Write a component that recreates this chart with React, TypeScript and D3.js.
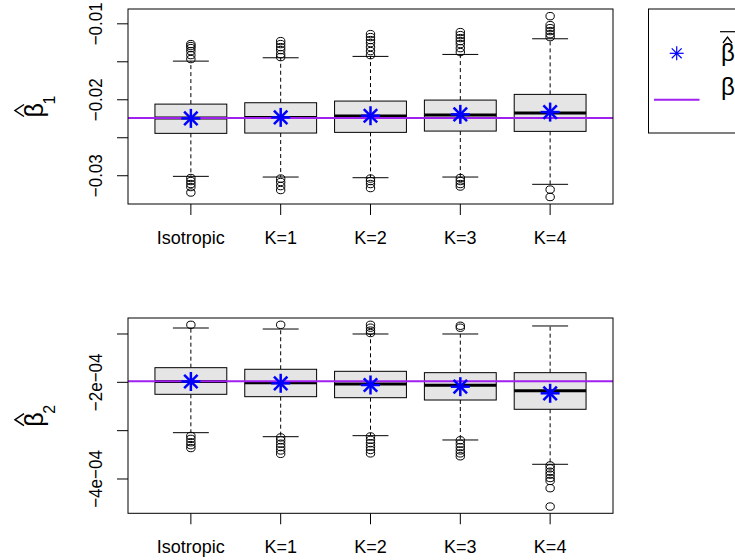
import React from "react";
import * as d3 from "d3";

// ---------- data ----------
const categories = ["Isotropic", "K=1", "K=2", "K=3", "K=4"];

// beta_1 panel
const b1Q1 = [-0.02442, -0.02438, -0.02429, -0.02412, -0.02416];
const b1Q3 = [-0.02057, -0.02039, -0.02017, -0.02004, -0.01929];
const b1Median = [-0.02241, -0.02232, -0.02214, -0.02201, -0.02175];
const b1WhiskerLo = [-0.03008, -0.03017, -0.03026, -0.03017, -0.03113];
const b1WhiskerHi = [-0.01491, -0.01447, -0.01429, -0.01403, -0.01197];
const b1Mean = [-0.02245, -0.02232, -0.0221, -0.02192, -0.02162];
const b1Outliers = [
  [-0.01267, -0.01293, -0.0132, -0.01359, -0.01412, -0.01464, -0.0303, -0.0307, -0.03109, -0.03149, -0.03221],
  [-0.01228, -0.01267, -0.01307, -0.01346, -0.01399, -0.01438, -0.03037, -0.03083, -0.03136, -0.03188],
  [-0.01136, -0.01175, -0.01214, -0.01254, -0.01307, -0.01359, -0.01412, -0.03037, -0.0307, -0.03109, -0.03162],
  [-0.01109, -0.01149, -0.01188, -0.01228, -0.01267, -0.0132, -0.01372, -0.0303, -0.0307, -0.03109, -0.03142],
  [-0.00899, -0.01017, -0.01057, -0.01096, -0.01136, -0.01175, -0.03182, -0.0328],
];
const b1True = -0.0224;
const b1Domain = [-0.03372, -0.00805];
const b1Ticks = [-0.03, -0.025, -0.02, -0.015, -0.01];
const b1TickLabels = ["−0.03", "", "−0.02", "", "−0.01"];

// beta_2 panel
const b2Q1 = [-2.248e-4, -2.297e-4, -2.318e-4, -2.366e-4, -2.558e-4];
const b2Q3 = [-1.697e-4, -1.73e-4, -1.772e-4, -1.8e-4, -1.8e-4];
const b2Median = [-1.983e-4, -2.008e-4, -2.035e-4, -2.062e-4, -2.173e-4];
const b2WhiskerLo = [-3.042e-4, -3.125e-4, -3.104e-4, -3.193e-4, -3.696e-4];
const b2WhiskerHi = [-0.876e-4, -0.897e-4, -1.0e-4, -1.0e-4, -0.834e-4];
const b2Mean = [-1.983e-4, -2.02e-4, -2.055e-4, -2.09e-4, -2.227e-4];
const b2Outliers = [
  [-0.81e-4, -3.11e-4, -3.17e-4, -3.24e-4, -3.3e-4, -3.36e-4],
  [-0.81e-4, -3.14e-4, -3.2e-4, -3.27e-4, -3.34e-4, -3.41e-4, -3.48e-4],
  [-0.81e-4, -0.87e-4, -0.93e-4, -0.98e-4, -3.12e-4, -3.19e-4, -3.26e-4, -3.33e-4, -3.4e-4, -3.47e-4],
  [-0.83e-4, -0.87e-4, -3.2e-4, -3.27e-4, -3.34e-4, -3.41e-4, -3.47e-4, -3.53e-4],
  [-3.72e-4, -3.78e-4, -3.85e-4, -3.91e-4, -3.98e-4, -4.04e-4, -4.19e-4, -4.57e-4],
];
const b2True = -1.98e-4;
const b2Domain = [-4.71e-4, -0.669e-4];
const b2Ticks = [-4e-4, -3e-4, -2e-4, -1e-4];
const b2TickLabels = ["−4e−04", "", "−2e−04", ""];

// ---------- styles ----------
const FONT = "'Liberation Sans', Arial, Helvetica, sans-serif";
const PURPLE = "#A020F0";
const BLUE = "#0000FF";

function Star({ x, y, r, sw }: { x: number; y: number; r: number; sw: number }) {
  const d = r / Math.SQRT2;
  return (
    <g stroke={BLUE} strokeWidth={sw} strokeLinecap="butt">
      <line x1={x - r} y1={y} x2={x + r} y2={y} />
      <line x1={x} y1={y - r} x2={x} y2={y + r} />
      <line x1={x - d} y1={y - d} x2={x + d} y2={y + d} />
      <line x1={x - d} y1={y + d} x2={x + d} y2={y - d} />
    </g>
  );
}

type PanelProps = {
  top: number;
  bottom: number;
  q1: number[];
  q3: number[];
  med: number[];
  wlo: number[];
  whi: number[];
  mean: number[];
  outliers: number[][];
  truth: number;
  domain: number[];
  ticks: number[];
  tickLabels: string[];
  sub: string;
  clipId: string;
};

const LEFT = 128;
const RIGHT = 613;

function Panel(p: PanelProps) {
  const x = d3.scaleLinear().domain([0.3, categories.length + 0.7]).range([LEFT, RIGHT]);
  const y = d3.scaleLinear().domain(p.domain).range([p.bottom, p.top]);
  const halfBox = x(1.4) - x(1);
  const halfCap = halfBox / 2;
  const titleY0 = (p.top + p.bottom) / 2 + 10;
  return (
    <g>
      <defs>
        <clipPath id={p.clipId}>
          <rect x={LEFT} y={p.top} width={RIGHT - LEFT} height={p.bottom - p.top} />
        </clipPath>
      </defs>
      {categories.map((c, i) => {
        const cx = x(i + 1);
        return (
          <g key={c}>
            <line x1={cx} x2={cx} y1={y(p.q3[i])} y2={y(p.whi[i])} stroke="#000" strokeWidth={1} strokeDasharray="4,3" />
            <line x1={cx} x2={cx} y1={y(p.q1[i])} y2={y(p.wlo[i])} stroke="#000" strokeWidth={1} strokeDasharray="4,3" />
            <line x1={cx - halfCap} x2={cx + halfCap} y1={y(p.whi[i])} y2={y(p.whi[i])} stroke="#000" strokeWidth={1} />
            <line x1={cx - halfCap} x2={cx + halfCap} y1={y(p.wlo[i])} y2={y(p.wlo[i])} stroke="#000" strokeWidth={1} />
            <rect
              x={cx - halfBox}
              y={y(p.q3[i])}
              width={halfBox * 2}
              height={y(p.q1[i]) - y(p.q3[i])}
              fill="#E5E5E5"
              stroke="#000"
              strokeWidth={1}
            />
            <line x1={cx - halfBox} x2={cx + halfBox} y1={y(p.med[i])} y2={y(p.med[i])} stroke="#000" strokeWidth={3} />
            {p.outliers[i].map((v, j) => (
              <ellipse key={j} cx={cx} cy={y(v)} rx={4.2} ry={3.7} fill="none" stroke="#000" strokeWidth={1} />
            ))}
          </g>
        );
      })}
      <line
        x1={LEFT}
        x2={RIGHT}
        y1={y(p.truth)}
        y2={y(p.truth)}
        stroke={PURPLE}
        strokeWidth={2}
        clipPath={`url(#${p.clipId})`}
      />
      {categories.map((c, i) => (
        <Star key={c} x={x(i + 1)} y={y(p.mean[i])} r={9.5} sw={2.5} />
      ))}
      <rect x={LEFT} y={p.top} width={RIGHT - LEFT} height={p.bottom - p.top} fill="none" stroke="#000" strokeWidth={1} />
      {p.ticks.map((t, i) => (
        <g key={i}>
          <line x1={LEFT - 11} x2={LEFT} y1={y(t)} y2={y(t)} stroke="#000" strokeWidth={1} />
          {p.tickLabels[i] && (
            <text
              transform={`translate(102,${y(t)}) scale(1.1,1) rotate(-90)`}
              textAnchor="middle"
              fontFamily={FONT}
              fontSize={17}
              fill="#000"
            >
              {p.tickLabels[i]}
            </text>
          )}
        </g>
      ))}
      {categories.map((c, i) => (
        <g key={c}>
          <line x1={x(i + 1)} x2={x(i + 1)} y1={p.bottom} y2={p.bottom + 11} stroke="#000" strokeWidth={1} />
          <text
            x={x(i + 1)}
            y={p.bottom + 40}
            textAnchor="middle"
            fontFamily={FONT}
            fontSize={18}
            fill="#000"
          >
            {c}
          </text>
        </g>
      ))}
      <g transform={`translate(43,${titleY0}) rotate(-90)`} fontFamily={FONT} fill="#000">
        <text x={-1} y={0} fontSize={25}>β</text>
        <text x={12} y={12} fontSize={16}>{p.sub}</text>
        <path d="M 0 -19 L 6 -28 L 12 -19" fill="none" stroke="#000" strokeWidth={1.5} />
      </g>
    </g>
  );
}

export default function App() {
  return (
    <svg
      width={735}
      height={560}
      viewBox="0 0 735 560"
      style={{ position: "absolute", left: 0, top: 0, background: "#fff" }}
    >
      <rect x={0} y={0} width={735} height={560} fill="#fff" />
      <Panel
        top={9}
        bottom={204}
        q1={b1Q1}
        q3={b1Q3}
        med={b1Median}
        wlo={b1WhiskerLo}
        whi={b1WhiskerHi}
        mean={b1Mean}
        outliers={b1Outliers}
        truth={b1True}
        domain={b1Domain}
        ticks={b1Ticks}
        tickLabels={b1TickLabels}
        sub="1"
        clipId="clip1"
      />
      <Panel
        top={318}
        bottom={513.3}
        q1={b2Q1}
        q3={b2Q3}
        med={b2Median}
        wlo={b2WhiskerLo}
        whi={b2WhiskerHi}
        mean={b2Mean}
        outliers={b2Outliers}
        truth={b2True}
        domain={b2Domain}
        ticks={b2Ticks}
        tickLabels={b2TickLabels}
        sub="2"
        clipId="clip2"
      />
      <g>
        <rect x={648.5} y={9} width={120} height={124} fill="#fff" stroke="#000" strokeWidth={1} />
        <Star x={676.7} y={53.3} r={7} sw={1.2} />
        <line x1={654} x2={699.5} y1={99.7} y2={99.7} stroke={PURPLE} strokeWidth={2} />
        <g fontFamily={FONT} fill="#000">
          <line x1={720} x2={735} y1={31.7} y2={31.7} stroke="#000" strokeWidth={1.2} />
          <path d="M 723 43 L 727.5 37 L 732 43" fill="none" stroke="#000" strokeWidth={1.3} />
          <text x={721} y={61} fontSize={24}>β</text>
          <text x={721} y={95} fontSize={24}>β</text>
        </g>
      </g>
    </svg>
  );
}
